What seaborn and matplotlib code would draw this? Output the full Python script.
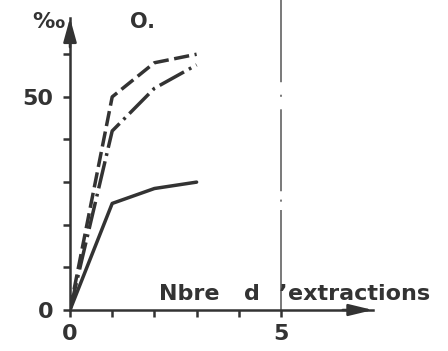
import matplotlib
matplotlib.use("Agg")
import matplotlib.pyplot as plt
import numpy as np
import pandas as pd
import seaborn as sns

# Cumulative extraction yield (%) after each successive extraction
extractions = [0, 1, 2, 3]
serie_solid = [0, 25, 28.5, 30]
serie_dashdot = [0, 42, 52, 57.5]
serie_dashed = [0, 50, 58, 60]

x_ticks = [0, 5]
x_minor = [1, 2, 3, 4]
y_ticks = [0, 50]
y_minor = [10, 20, 30, 40, 60]

df = pd.DataFrame({
    "n": extractions * 3,
    "pct": serie_solid + serie_dashdot + serie_dashed,
    "serie": ["a"] * 4 + ["b"] * 4 + ["c"] * 4,
})

sns.set_style("white")
plt.rcParams["font.family"] = ["DejaVu Sans"]
plt.rcParams["font.weight"] = "bold"
plt.rcParams["lines.scale_dashes"] = False

INK = "#333333"
W, H = 448, 351

fig = plt.figure(figsize=(W / 100, H / 100), dpi=100)
fig.patch.set_facecolor("white")
ax = fig.add_axes([70 / W, 41 / H, 303 / W, 292 / H])
ax.set_facecolor("white")

sns.lineplot(
    data=df, x="n", y="pct", style="serie",
    dashes={"a": "", "b": (20, 4, 2, 4), "c": (11, 4)},
    color=INK, linewidth=2.5, legend=False, ax=ax,
)

# thin vertical marker at five extractions, running past the top of the axes
ax.axvline(5, ymin=0, ymax=1.07, color="#555555", linewidth=1.1, clip_on=False,
           linestyle=(0, (72, 6, 1.5, 6, 59, 9, 1.5, 9, 120)))

ax.set_xlim(0, 7.18)
ax.set_ylim(0, 68.5)

for side in ("top", "right"):
    ax.spines[side].set_visible(False)
for side in ("left", "bottom"):
    ax.spines[side].set_linewidth(1.8)
    ax.spines[side].set_color(INK)

ax.set_xticks(x_ticks)
ax.set_xticks(x_minor, minor=True)
ax.set_yticks(y_ticks)
ax.set_yticks(y_minor, minor=True)
ax.set_xticklabels([str(v) for v in x_ticks])
ax.set_yticklabels([str(v) for v in y_ticks])
ax.tick_params(which="both", bottom=True, left=True, direction="out",
               length=5, width=1.8, color=INK)
ax.tick_params(axis="x", labelsize=16, pad=5, labelcolor=INK)
ax.tick_params(axis="y", labelsize=16, pad=7, labelcolor=INK)
ax.set_xlabel("")
ax.set_ylabel("")

# arrowheads at the ends of both axes
ax.annotate("", xy=(1.0, 0), xytext=(0.9, 0), xycoords="axes fraction",
            arrowprops=dict(arrowstyle="-|>,head_length=1.45,head_width=0.35",
                            mutation_scale=10, color=INK, lw=1.8,
                            shrinkA=0, shrinkB=0),
            annotation_clip=False)
ax.annotate("", xy=(0, 1.0), xytext=(0, 0.9), xycoords="axes fraction",
            arrowprops=dict(arrowstyle="-|>,head_length=1.45,head_width=0.4",
                            mutation_scale=10, color=INK, lw=1.8,
                            shrinkA=0, shrinkB=0),
            annotation_clip=False)

# x-axis caption, set above the axis line
def px_text(x, y, s, ha="left", size=16):
    fig.text(x / W, 1 - y / H, s, ha=ha, va="baseline",
             fontsize=size, fontweight="bold", color=INK)

px_text(159, 300, "Nbre")
px_text(244, 300, "d")
px_text(279, 300, "\u2019")
px_text(288, 300, "extractions")

fig.text(32 / W, 1 - 22 / H, "\u2030", ha="left", va="center",
         fontsize=16, fontweight="bold", color=INK)
fig.text(130 / W, 1 - 22 / H, "O.", ha="left", va="center",
         fontsize=15, fontweight="bold", color=INK)

fig.savefig("out.png", dpi=100, facecolor="white")
